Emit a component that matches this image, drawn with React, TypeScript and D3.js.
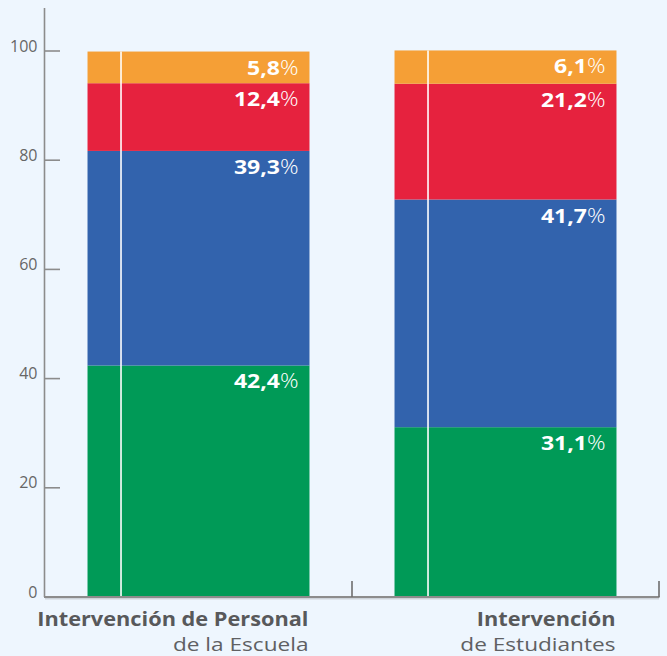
import React from "react";
import * as d3 from "d3";

const categoriesBold = ["Intervención de Personal", "Intervención"];
const categoriesLight = ["de la Escuela", "de Estudiantes"];
const seriesKeys = ["verde", "azul", "rojo", "naranja"];
const verdeValues = [42.4, 31.1];
const azulValues = [39.3, 41.7];
const rojoValues = [12.4, 21.2];
const naranjaValues = [5.8, 6.1];
const seriesColors = ["#009A57", "#3263AD", "#E6223E", "#F59F36"];
const yTicks = [0, 20, 40, 60, 80, 100];

const W = 667;
const H = 656;
const FONT = "'Open Sans', 'Noto Sans', sans-serif";

export default function App() {
  const rows = categoriesBold.map((c, i) => ({
    cat: c,
    verde: verdeValues[i],
    azul: azulValues[i],
    rojo: rojoValues[i],
    naranja: naranjaValues[i],
  }));
  const stack = d3.stack<any>().keys(seriesKeys);
  const layers = stack(rows);

  const y = d3.scaleLinear().domain([0, 100]).range([597, 51]);
  const x = d3
    .scaleBand<string>()
    .domain(categoriesBold)
    .range([45, 659])
    .paddingInner(0.277)
    .paddingOuter(0.1385);
  const bw = x.bandwidth();
  const step = x.step();
  const fmt = (v: number) => v.toFixed(1).replace(".", ",");

  return (
    <svg
      width={W}
      height={H}
      style={{ position: "absolute", left: 0, top: 0 }}
      fontFamily={FONT}
    >
      <rect x={0} y={0} width={W} height={H} fill="#EEF6FE" />
      {layers.map((layer, li) => (
        <g key={layer.key}>
          {layer.map((d, i) => (
            <rect
              key={i}
              x={x(categoriesBold[i])!}
              y={y(d[1])}
              width={bw}
              height={y(d[0]) - y(d[1])}
              fill={seriesColors[li]}
            />
          ))}
        </g>
      ))}
      {categoriesBold.map((c, i) => {
        const top = layers[layers.length - 1][i][1];
        return (
          <line
            key={"wl" + i}
            x1={x(c)! + 33.5}
            x2={x(c)! + 33.5}
            y1={y(top)}
            y2={y(0)}
            stroke="#ffffff"
            strokeWidth={1.6}
          />
        );
      })}
      {layers.map((layer, li) =>
        layer.map((d, i) => (
          <text
            key={"lbl" + li + "-" + i}
            transform={`translate(${x(categoriesBold[i])! + bw - 11},${y(d[1]) + 23}) scale(1.15,1)`}
            textAnchor="end"
            fill="#ffffff"
            fontSize={20}
          >
            <tspan fontWeight={700}>{fmt(d[1] - d[0])}</tspan>
            <tspan fontWeight={300}>%</tspan>
          </text>
        ))
      )}
      {/* y axis */}
      <line x1={44.5} x2={44.5} y1={8} y2={597} stroke="#8c8c8c" strokeWidth={1.6} />
      {yTicks.map((t) => (
        <g key={"t" + t}>
          <line x1={45} x2={60} y1={y(t)} y2={y(t)} stroke="#8c8c8c" strokeWidth={1.6} />
          <text
            transform={`translate(37.5,${y(t) + 0.5})`}
            textAnchor="end"
            fill="#666666"
            fontSize={16}
          >
            {t}
          </text>
        </g>
      ))}
      {/* x axis */}
      <line x1={45} x2={659} y1={598.8} y2={598.8} stroke="#cdd3da" strokeWidth={1.5} />
      <line x1={44} x2={659.5} y1={597} y2={597} stroke="#8c8c8c" strokeWidth={1.8} />
      {categoriesBold.map((c, i) => (
        <line
          key={"ct" + i}
          x1={45 + step * (i + 1)}
          x2={45 + step * (i + 1)}
          y1={581}
          y2={597}
          stroke="#6e6e6e"
          strokeWidth={1.6}
        />
      ))}
      {categoriesBold.map((c, i) => (
        <g key={"cl" + i}>
          <text
            transform={`translate(${x(c)! + bw - 1},626) scale(1.145,1)`}
            textAnchor="end"
            fill="#58595B"
            fontSize={19}
            fontWeight={700}
          >
            {c}
          </text>
          <text
            transform={`translate(${x(c)! + bw - 1},650.5) scale(1.19,1)`}
            textAnchor="end"
            fill="#58595B"
            fontSize={19}
            fontWeight={400}
            opacity={0.95}
          >
            {categoriesLight[i]}
          </text>
        </g>
      ))}
    </svg>
  );
}
